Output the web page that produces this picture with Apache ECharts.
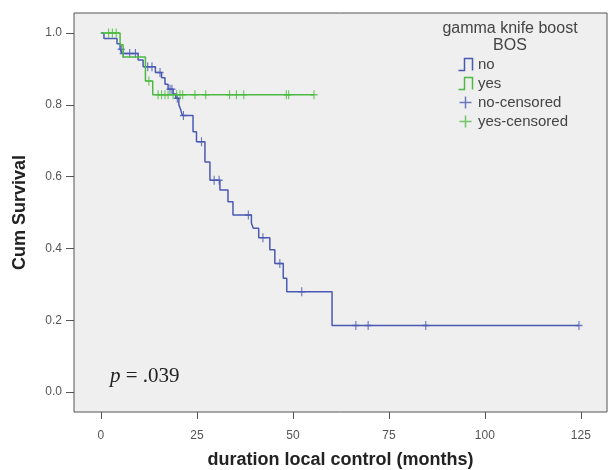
<!DOCTYPE html>
<html><head><meta charset="utf-8">
<script src="https://cdn.jsdelivr.net/npm/echarts@6/dist/echarts.min.js"></script>
<style>html,body{margin:0;padding:0;background:#fff}#c{width:609px;height:470px}</style>
</head><body><div id="c"></div>
<script>
// ---- data ----
const xTicks = [0, 25, 50, 75, 100, 125];
const yTicks = [0, 0.2, 0.4, 0.6, 0.8, 1.0];

// group "no": event times and survival after each step
const noTimes = [0, 0.8, 4.2, 5.0, 5.5, 9.7, 11.0, 14.2, 15.8, 16.7, 17.5, 18.8, 19.5, 20.3, 20.8, 21.2, 24.0, 24.9, 27.1, 28.4, 31.0, 33.1, 34.4, 39.2, 39.7, 41.1, 44.0, 45.3, 47.5, 48.4, 60.2, 124.5];
const noSurv  = [1.0, 0.985, 0.97, 0.955, 0.943, 0.925, 0.906, 0.89, 0.875, 0.857, 0.843, 0.83, 0.818, 0.80, 0.786, 0.77, 0.725, 0.697, 0.641, 0.590, 0.563, 0.53, 0.493, 0.47, 0.456, 0.43, 0.396, 0.358, 0.317, 0.279, 0.185, 0.185];
const noCensored = [5.3, 5.8, 7.5, 9.0, 12.2, 13.3, 15.4, 18.0, 18.5, 19.9, 21.5, 26.2, 29.5, 30.8, 38.4, 42.2, 46.6, 52.3, 66.4, 69.6, 84.6, 124.5];

// group "yes"
const yesTimes = [0, 5.0, 5.8, 11.6, 13.5, 55.5];
const yesSurv  = [1.0, 0.967, 0.933, 0.866, 0.828, 0.828];
const yesCensored = [2.0, 3.0, 4.0, 12.5, 14.9, 15.8, 16.7, 17.5, 18.8, 19.7, 20.6, 21.3, 24.5, 27.3, 33.5, 35.3, 37.2, 48.3, 48.9, 55.5];

const legendTitle = 'gamma knife boost\nBOS';
const pText = '{i|p} = .039';

// ---- helpers ----
function survAt(times, surv, t) {
  let s = surv[0];
  for (let i = 0; i < times.length; i++) { if (times[i] <= t) s = surv[i]; }
  return s;
}
const pairs = (ts, ss) => ts.map((t, i) => [t, ss[i]]);
const censorPts = (cs, ts, ss) => cs.map(t => [t, survAt(ts, ss, t)]);

const BLUE = '#4a5ab2', GREEN = '#4cba42';
const FONT = 'Liberation Sans, Arial, sans-serif';
const SERIF = 'Liberation Serif, Times New Roman, serif';
const plus = 'path://M5,0 L5,10 M0,5 L10,5';
const stepIcon = 'path://M0,12 L6,12 L6,0 L14,0 L14,12';

const gridLeft = 74, gridRight = 2, gridTop = 13, gridBottom = 58;
const plotW = 609 - gridLeft - gridRight;
const pxPerMonth = 3.84;
const xMin = -7, xMax = xMin + plotW / pxPerMonth;
const yMin = -0.0557, yMax = 1.0557;

const chart = echarts.init(document.getElementById('c'));
chart.setOption({
  animation: false,
  textStyle: { fontFamily: FONT },
  grid: { left: gridLeft, right: gridRight, top: gridTop, bottom: gridBottom, show: true,
          containLabel: false, outerBoundsMode: 'none',
          backgroundColor: '#efefef', borderColor: '#555', borderWidth: 1 },
  xAxis: {
    type: 'value', min: xMin, max: xMax,
    axisLine: { show: false, onZero: false },
    axisTick: { show: true, length: 7, lineStyle: { color: '#555' }, customValues: xTicks },
    axisLabel: { customValues: xTicks, margin: 18, fontSize: 12, color: '#555', fontFamily: FONT },
    splitLine: { show: false },
    name: 'duration local control (months)', nameLocation: 'middle', nameGap: 39,
    nameTextStyle: { fontWeight: 'bold', fontSize: 18, color: '#222', fontFamily: FONT }
  },
  yAxis: {
    type: 'value', min: yMin, max: yMax,
    axisLine: { show: false, onZero: false },
    axisTick: { show: true, length: 8, lineStyle: { color: '#555' }, customValues: yTicks },
    axisLabel: { customValues: yTicks, margin: 12, fontSize: 12, color: '#555', fontFamily: FONT,
                 formatter: v => Number(v).toFixed(1) },
    splitLine: { show: false },
    name: 'Cum Survival', nameLocation: 'middle', nameGap: 45,
    nameTextStyle: { fontWeight: 'bold', fontSize: 18, color: '#222', fontFamily: FONT }
  },
  legend: {
    orient: 'vertical', left: 451, top: 51, itemWidth: 15, itemHeight: 12, itemGap: 2,
    selectedMode: false,
    textStyle: { fontSize: 15, color: '#444', fontFamily: FONT },
    data: [
      { name: 'no', icon: stepIcon, itemStyle: { color: 'none', borderColor: BLUE, borderWidth: 1.5 } },
      { name: 'yes', icon: stepIcon, itemStyle: { color: 'none', borderColor: GREEN, borderWidth: 1.5 } },
      { name: 'no-censored', icon: plus, itemStyle: { color: 'none', borderColor: BLUE, borderWidth: 1.5 } },
      { name: 'yes-censored', icon: plus, itemStyle: { color: 'none', borderColor: GREEN, borderWidth: 1.5 } }
    ]
  },
  graphic: [
    { type: 'text', x: 510, y: 20, z: 10,
      style: { text: legendTitle, textAlign: 'center', fontSize: 16, lineHeight: 17, fill: '#444', fontFamily: FONT } },
    { type: 'text', x: 110, y: 366, z: 10,
      style: { text: pText, fontSize: 21, fill: '#222', fontFamily: SERIF,
               rich: { i: { fontStyle: 'italic', fontSize: 21, fontFamily: SERIF } } } }
  ],
  series: [
    { name: 'no', type: 'line', step: 'end', data: pairs(noTimes, noSurv), symbol: 'none',
      lineStyle: { color: BLUE, width: 1.5 }, itemStyle: { color: BLUE } },
    { name: 'no-censored', type: 'scatter', data: censorPts(noCensored, noTimes, noSurv),
      symbol: plus, symbolSize: [7, 9],
      itemStyle: { color: 'none', borderColor: BLUE, borderWidth: 1.3 } },
    { name: 'yes', type: 'line', step: 'end', data: pairs(yesTimes, yesSurv), symbol: 'none',
      lineStyle: { color: GREEN, width: 1.5 }, itemStyle: { color: GREEN } },
    { name: 'yes-censored', type: 'scatter', data: censorPts(yesCensored, yesTimes, yesSurv),
      symbol: plus, symbolSize: [7, 9],
      itemStyle: { color: 'none', borderColor: GREEN, borderWidth: 1.3 } }
  ]
});
</script>
</body></html>
